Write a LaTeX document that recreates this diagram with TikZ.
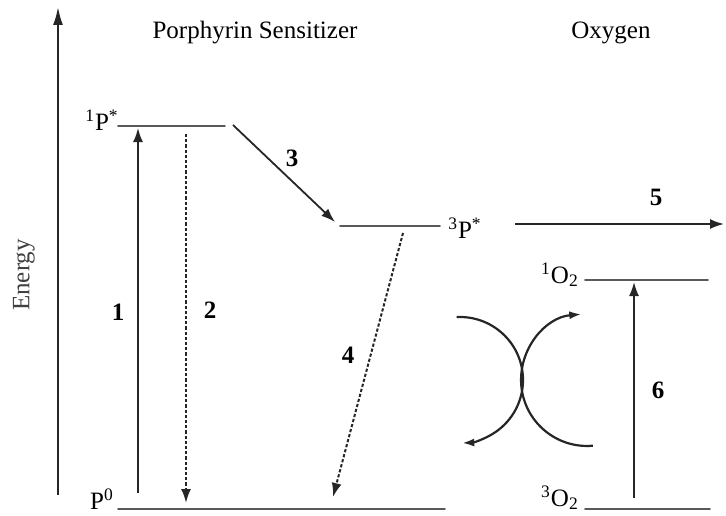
\documentclass[tikz,border=0pt]{standalone}
\usepackage{fontspec}
\setmainfont{Liberation Serif}
\usepackage{tikz}
\usetikzlibrary{calc, arrows.meta}
\usepackage{tkz-euclide}
\usepackage{xcolor}

\tikzset{
    level/.style = {black!65, line width=0.8pt},
    trans/.style = {black!85, line width=0.9pt, -{Latex[length=7pt, width=5pt]}},
    nonrad/.style = {trans, line width=1pt, dash pattern=on 1.6pt off 1pt},
    num/.style = {font=\fontsize{12.5}{15}\selectfont\bfseries},
}

\begin{document}
\begin{tikzpicture}[x=0.5pt, y=0.5pt, font=\fontsize{12.5}{15}\selectfont]
            \useasboundingbox (0,0) rectangle (726,515);
            % energy levels
            \tkzDefPoints{58/20/E0, 58/508/E1}
            \tkzDefPoints{118/389/S1a, 225/389/S1b, 340/289/T1a, 440/289/T1b, 118/6/G0a, 445/6/G0b}
            \tkzDefPoints{585/235/Oa, 708/235/Ob, 585/6/Ga, 710/6/Gb}
            % ends of the transitions
            \tkzDefPoints{138/22/A1, 138/387/B1, 186/381/A2, 186/12/B2, 233/390/A3, 335/293/B3}
            \tkzDefPoints{403/282/A4, 333/18/B4, 515/291/A5, 724/291/B5, 634/17/A6, 634/233/B6}
            \tkzDefPoints{456.7/197.9/C1, 592.8/69.3/C2}
            \tkzDrawSegments[level](S1a,S1b T1a,T1b G0a,G0b Oa,Ob Ga,Gb)
            \draw[trans, line width=1pt, -{Latex[length=9pt, width=5pt]}] (E0) -- (E1);
            \draw[trans] (A1) -- (B1);
            \draw[nonrad] (A2) -- (B2);
            \draw[trans] (A3) -- (B3);
            \draw[nonrad] (A4) -- (B4);
            \draw[trans] (A5) -- (B5);
            \draw[trans] (A6) -- (B6);
            \draw[trans, line width=1.1pt, -{Latex[length=6pt, width=4pt]}] (C1) arc[start angle=93, end angle=-88, radius=63];
            \draw[trans, line width=1.1pt, -{Latex[length=6pt, width=4pt]}] (C2) arc[start angle=275, end angle=95, radius=66];
            % texts
            \node (porph) at (255,482) {Porphyrin Sensitizer};
            \node (oxy) at (611,482) {Oxygen};
            \node[rotate=90, black!75] (energy) at (24,240) {Energy};
            \node (lS1) at (102,395) {\textsuperscript{1}P\textsuperscript{*}};
            \node (lT1) at (465,287) {\textsuperscript{3}P\textsuperscript{*}};
            \node (lG0) at (102,16) {P\textsuperscript{0}};
            \node (lO1) at (560,240) {\textsuperscript{1}O\textsubscript{2}};
            \node (lO3) at (560,17) {\textsuperscript{3}O\textsubscript{2}};
            \node[num] (n1) at (118,203) {1};
            \node[num] (n2) at (210,205) {2};
            \node[num] (n3) at (292,357) {3};
            \node[num] (n4) at (348,160) {4};
            \node[num] (n5) at (656,318) {5};
            \node[num] (n6) at (658,125) {6};
        \end{tikzpicture}
\end{document}
